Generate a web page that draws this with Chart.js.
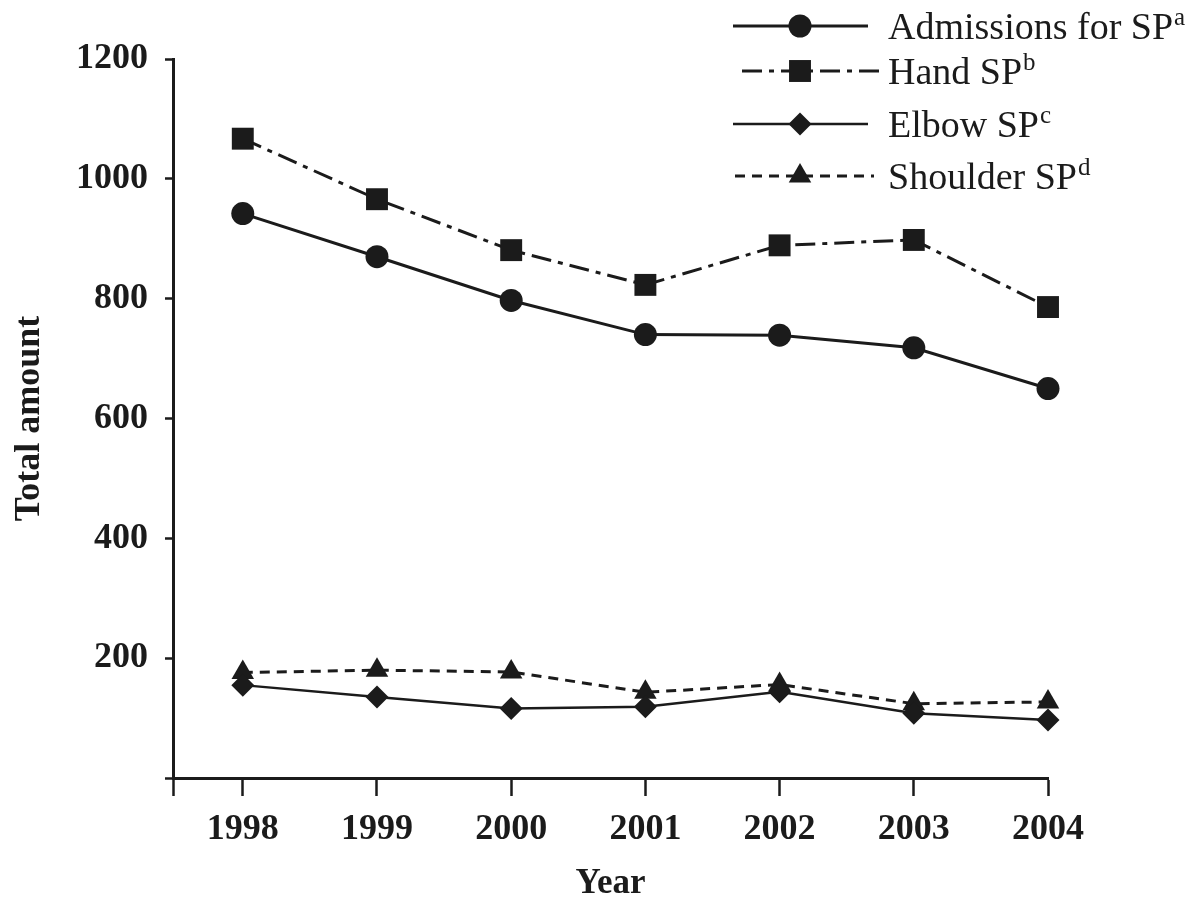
<!DOCTYPE html>
<html>
<head>
<meta charset="utf-8">
<script src="https://cdn.jsdelivr.net/npm/chart.js@4/dist/chart.umd.min.js"></script>
<style>
    html, body { margin: 0; padding: 0; background: #fff; }
    canvas { display: block; }
</style>
</head>
<body>
<canvas id="spChart" width="1195" height="901"></canvas>
<script>
// values
const years = [1998, 1999, 2000, 2001, 2002, 2003, 2004];
const admissions = [942, 870, 797, 740, 739, 718, 650];
const hand = [1067, 966, 881, 823, 889, 898, 786];
const elbow = [155, 135, 116, 119, 144, 108, 97];
const shoulder = [176, 180, 177, 143, 156, 124, 127];
const seriesNames = ['Admissions for SP', 'Hand SP', 'Elbow SP', 'Shoulder SP'];
const seriesNotes = ['a', 'b', 'c', 'd'];

const ink = '#1b1b1b';
const serif = '"Liberation Serif", "Times New Roman", serif';

function toPoints(values) {
    return values.map((v, i) => ({ x: years[i], y: v }));
}

function drawMarker(ctx, style, r, x, y) {
    ctx.beginPath();
    if (style === 'circle') {
        ctx.arc(x, y, r, 0, Math.PI * 2);
    } else if (style === 'rect') {
        const s = Math.SQRT1_2 * r;
        ctx.rect(x - s, y - s, 2 * s, 2 * s);
    } else if (style === 'rectRot') {
        ctx.moveTo(x, y - r);
        ctx.lineTo(x + r, y);
        ctx.lineTo(x, y + r);
        ctx.lineTo(x - r, y);
        ctx.closePath();
    } else if (style === 'triangle') {
        ctx.moveTo(x, y - r);
        ctx.lineTo(x + Math.sin(Math.PI * 2 / 3) * r, y + r / 2);
        ctx.lineTo(x - Math.sin(Math.PI * 2 / 3) * r, y + r / 2);
        ctx.closePath();
    }
    ctx.fill();
}

// legend in the top right corner, with superscript notes
const legendRows = [
    { y: 26, x0: 733, x1: 868 },
    { y: 71, x0: 742, x1: 882 },
    { y: 124, x0: 733, x1: 868 },
    { y: 176, x0: 735, x1: 874 }
];

const cornerLegend = {
    id: 'cornerLegend',
    afterDraw(chart) {
        const ctx = chart.ctx;
        ctx.save();
        chart.data.datasets.forEach((ds, i) => {
            const row = legendRows[i];
            ctx.strokeStyle = ink;
            ctx.fillStyle = ink;
            ctx.lineWidth = ds.borderWidth;
            ctx.setLineDash(ds.borderDash || []);
            ctx.beginPath();
            ctx.moveTo(row.x0, row.y);
            ctx.lineTo(row.x1, row.y);
            ctx.stroke();
            ctx.setLineDash([]);
            drawMarker(ctx, ds.pointStyle, ds.pointRadius, 800, row.y);

            const base = row.y + 12.5;
            ctx.textBaseline = 'alphabetic';
            ctx.textAlign = 'left';
            ctx.font = '38px ' + serif;
            ctx.fillText(seriesNames[i], 888, base);
            const w = ctx.measureText(seriesNames[i]).width;
            ctx.font = '25px ' + serif;
            ctx.fillText(seriesNotes[i], 888 + w + 1, base - 14);
        });
        ctx.restore();
    }
};

const xMin = 1997.48;

new Chart(document.getElementById('spChart'), {
    type: 'line',
    data: {
        datasets: [
            {
                label: seriesNames[0],
                data: toPoints(admissions),
                borderColor: ink,
                backgroundColor: ink,
                borderWidth: 3,
                pointStyle: 'circle',
                pointRadius: 11.5,
                pointBorderWidth: 0,
                clip: false
            },
            {
                label: seriesNames[1],
                data: toPoints(hand),
                borderColor: ink,
                backgroundColor: ink,
                borderWidth: 3,
                borderDash: [20, 7, 5, 7],
                pointStyle: 'rect',
                pointRadius: 15.5,
                pointBorderWidth: 0,
                clip: false
            },
            {
                label: seriesNames[2],
                data: toPoints(elbow),
                borderColor: ink,
                backgroundColor: ink,
                borderWidth: 2.5,
                pointStyle: 'rectRot',
                pointRadius: 11.5,
                pointBorderWidth: 0,
                clip: false
            },
            {
                label: seriesNames[3],
                data: toPoints(shoulder),
                borderColor: ink,
                backgroundColor: ink,
                borderWidth: 3,
                borderDash: [10, 7],
                pointStyle: 'triangle',
                pointRadius: 13,
                pointBorderWidth: 0,
                clip: false
            }
        ]
    },
    options: {
        responsive: false,
        animation: false,
        layout: { padding: { top: 59, right: 147, left: 0, bottom: 0 } },
        plugins: {
            legend: { display: false },
            tooltip: { enabled: false }
        },
        scales: {
            x: {
                type: 'linear',
                min: xMin,
                max: 2004,
                afterBuildTicks(scale) {
                    scale.ticks = [xMin].concat(years).map(v => ({ value: v }));
                },
                ticks: {
                    color: ink,
                    padding: 12,
                    font: { family: serif, size: 36, weight: 'bold' },
                    callback: v => (Number.isInteger(v) ? String(v) : '')
                },
                grid: {
                    drawOnChartArea: false,
                    tickLength: 18,
                    tickWidth: 2.5,
                    tickColor: ink
                },
                border: { display: true, width: 3, color: ink },
                title: {
                    display: true,
                    text: 'Year',
                    color: ink,
                    padding: { top: 0, bottom: 0 },
                    font: { family: serif, size: 35, weight: 'bold', lineHeight: 1 }
                },
                afterFit(scale) { scale.height = 123; }
            },
            y: {
                min: 0,
                max: 1200,
                ticks: {
                    stepSize: 200,
                    color: ink,
                    padding: 17,
                    font: { family: serif, size: 36, weight: 'bold' },
                    callback: v => (v === 0 ? '' : String(v))
                },
                grid: {
                    drawOnChartArea: false,
                    tickLength: 8,
                    tickWidth: 2.5,
                    tickColor: ink
                },
                border: { display: true, width: 3, color: ink },
                title: {
                    display: true,
                    text: 'Total amount',
                    color: ink,
                    padding: { top: 12, bottom: 0 },
                    font: { family: serif, size: 36, weight: 'bold', lineHeight: 1 }
                },
                afterFit(scale) { scale.width = 173; }
            }
        }
    },
    plugins: [cornerLegend]
});
</script>
</body>
</html>
